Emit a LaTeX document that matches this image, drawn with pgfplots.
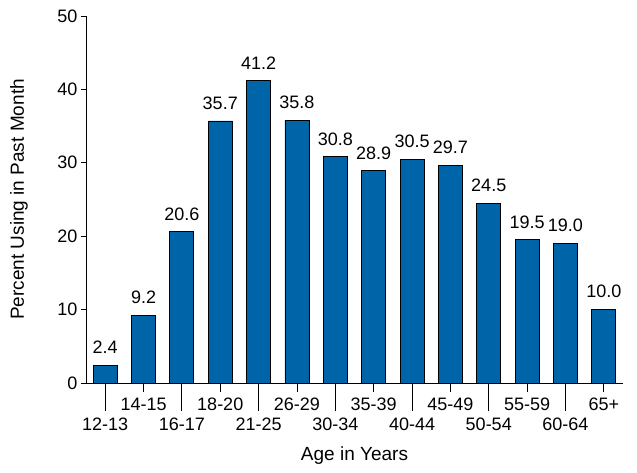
\documentclass[border=0pt]{standalone}
\usepackage{fontspec}
\setmainfont{Liberation Sans}
\usepackage{pgfplots}
\pgfplotsset{compat=1.18}
\definecolor{barblue}{RGB}{0,100,168}
\newcommand\fs{\fontsize{18bp}{21bp}\selectfont}
\newcommand\fl{\fontsize{19bp}{22bp}\selectfont}
\begin{document}
\begin{tikzpicture}
\path (0,0) rectangle (637bp,473bp);
\begin{axis}[
  at={(86bp,90bp)}, anchor=south west,
  scale only axis, width=537bp, height=367bp,
  xmin=-0.5, xmax=13.5, ymin=0, ymax=50,
  axis x line*=bottom, axis y line*=left,
  axis line style={line width=0.9bp},
  /pgf/number format/assume math mode=true,
  tick align=outside, major tick length=5bp,
  every tick/.style={black, line width=0.9bp},
  ytick={0,10,...,50},
  yticklabel style={font=\fs},
  ybar, bar width=24bp,
  xtick={0,2,...,12},
  xticklabels={12-13,16-17,21-25,30-34,40-44,50-54,60-64},
  xtick style={/pgfplots/major tick length=28bp},
  xticklabel style={font=\fs, anchor=base, inner sep=0pt, yshift=-42bp},
  extra x ticks={1,3,...,13},
  extra x tick labels={14-15,18-20,26-29,35-39,45-49,55-59,65+},
  extra x tick style={/pgfplots/major tick length=9bp,
    xtick style={/pgfplots/major tick length=9bp},
    xticklabel style={yshift=24bp}},
  every axis x label/.style={at={(axis description cs:0.5,-0.21)}, anchor=base, inner sep=0pt, font=\fl},
  every axis y label/.style={at={(axis description cs:-0.108,0.5)}, rotate=90, anchor=south, inner sep=0pt, font=\fl},
  xlabel={Age in Years},
  ylabel={Percent Using in Past Month},
  nodes near coords,
  every node near coord/.append style={font=\fs, anchor=south, inner sep=0pt, yshift=11bp, black,
    /pgf/number format/fixed, /pgf/number format/fixed zerofill, /pgf/number format/precision=1},
]
\addplot[fill=barblue, draw=black, line width=0.9bp] coordinates {
  (0,2.4) (1,9.2) (2,20.6) (3,35.7) (4,41.2) (5,35.8) (6,30.8)
  (7,28.9) (8,30.5) (9,29.7) (10,24.5) (11,19.5) (12,19.0) (13,10.0)
};
\end{axis}
\end{tikzpicture}
\end{document}
